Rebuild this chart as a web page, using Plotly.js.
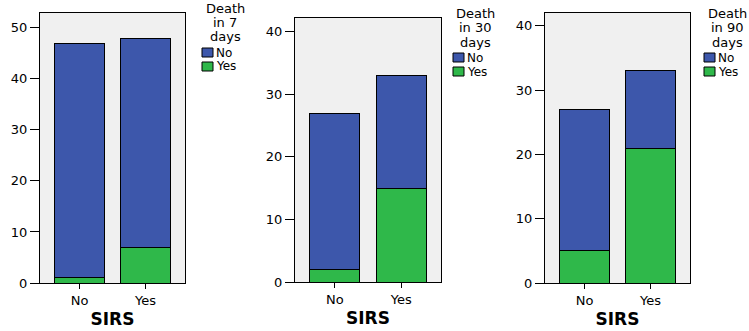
<!DOCTYPE html>
<html>
<head>
<meta charset="utf-8">
<script src="https://cdn.plot.ly/plotly-3.0.1.min.js"></script>
<style>html,body{margin:0;padding:0;background:#fff;}#chart{width:749px;height:331px;}</style>
</head>
<body>
<div id="chart"></div>
<script>
const categories = ['No', 'Yes'];
const death7No = [46, 41];
const death7Yes = [1, 7];
const death30No = [25, 18];
const death30Yes = [2, 15];
const death90No = [22, 12];
const death90Yes = [5, 21];
const legendTitleLines = [['Death', 'in 7', 'days'], ['Death', 'in 30', 'days'], ['Death', 'in 90', 'days']];
const legendLabels = ['No', 'Yes'];
const axisTitle = 'SIRS';

const BLUE = '#3D57AB';
const GREEN = '#2FB84A';
const FONT = '"DejaVu Sans", Arial, sans-serif';
const W = 749, H = 331;

function pair(yesVals, noVals, idx) {
  const xa = idx === 1 ? 'x' : 'x' + idx;
  const ya = idx === 1 ? 'y' : 'y' + idx;
  return [
    {type: 'bar', x: categories, y: yesVals, name: 'Yes', xaxis: xa, yaxis: ya, showlegend: false,
     marker: {color: GREEN, line: {color: '#000', width: 1}}, width: 0.75},
    {type: 'bar', x: categories, y: noVals, name: 'No', xaxis: xa, yaxis: ya, showlegend: false,
     marker: {color: BLUE, line: {color: '#000', width: 1}}, width: 0.75}
  ];
}

const data = [].concat(pair(death7Yes, death7No, 1), pair(death30Yes, death30No, 2), pair(death90Yes, death90No, 3));

function xax(dom, anchor) {
  return {domain: dom, anchor: anchor, type: 'category', range: [-0.6, 1.6], showline: true, mirror: true, linecolor: '#000', linewidth: 1,
    ticks: 'outside', ticklen: 5, tickcolor: '#000', showgrid: false, zeroline: false,
    tickfont: {family: FONT, size: 13, color: '#000'},
    title: {text: '<b>' + axisTitle + '</b>', font: {family: FONT, size: 17, color: '#000'}, standoff: 6}};
}
function yax(dom, top, anchor) {
  return {domain: dom, anchor: anchor, range: [0, top], dtick: 10, showline: true, mirror: true, linecolor: '#000', linewidth: 1,
    ticks: 'outside', ticklen: 9, tickcolor: '#000', showgrid: false, zeroline: false,
    tickfont: {family: FONT, size: 13, color: '#000'}};
}

// custom legend blocks (pixel positions)
const legendBoxes = [
  {cx: 225, titleY: [9, 23, 37], sx: 202, itemY: [[48, 57], [62, 71]]},
  {cx: 476, titleY: [14, 28, 42], sx: 453, itemY: [[53, 62], [67, 76]]},
  {cx: 727, titleY: [14, 28, 42], sx: 704, itemY: [[53, 62], [67, 76]]}
];
const legendColors = [BLUE, GREEN];
const shapes = [];
const annotations = [];
legendBoxes.forEach(function (b, i) {
  legendTitleLines[i].forEach(function (t, k) {
    annotations.push({xref: 'paper', yref: 'paper', x: b.cx / W, y: 1 - b.titleY[k] / H, xanchor: 'center', yanchor: 'middle',
      text: t, showarrow: false, borderpad: 0, font: {family: FONT, size: 13, color: '#000'}});
  });
  legendLabels.forEach(function (lab, k) {
    const y0 = b.itemY[k][0], y1 = b.itemY[k][1];
    shapes.push({type: 'rect', xref: 'paper', yref: 'paper', x0: b.sx / W, x1: (b.sx + 11) / W, y0: 1 - y1 / H, y1: 1 - y0 / H,
      fillcolor: legendColors[k], line: {color: '#000', width: 1}});
    annotations.push({xref: 'paper', yref: 'paper', x: (b.sx + 13) / W, y: 1 - (y0 + y1) / 2 / H, xanchor: 'left', yanchor: 'middle',
      text: lab, showarrow: false, borderpad: 0, font: {family: FONT, size: 12, color: '#000'}});
  });
});

const layout = {
  width: W, height: H,
  margin: {l: 0, r: 0, t: 0, b: 0},
  paper_bgcolor: '#fff', plot_bgcolor: '#F0F0F0',
  barmode: 'stack', showlegend: false,
  font: {family: FONT, color: '#000'},
  xaxis: xax([40/W, 185/W], 'y'),
  yaxis: yax([48/H, 318/H], 52.9, 'x'),
  xaxis2: xax([295/W, 441/W], 'y2'),
  yaxis2: yax([49/H, 313/H], 42.2, 'x2'),
  xaxis3: xax([545/W, 690/W], 'y3'),
  yaxis3: yax([48/H, 318/H], 42.0, 'x3'),
  shapes: shapes,
  annotations: annotations
};

Plotly.newPlot('chart', data, layout, {displayModeBar: false, staticPlot: true});
</script>
</body>
</html>
